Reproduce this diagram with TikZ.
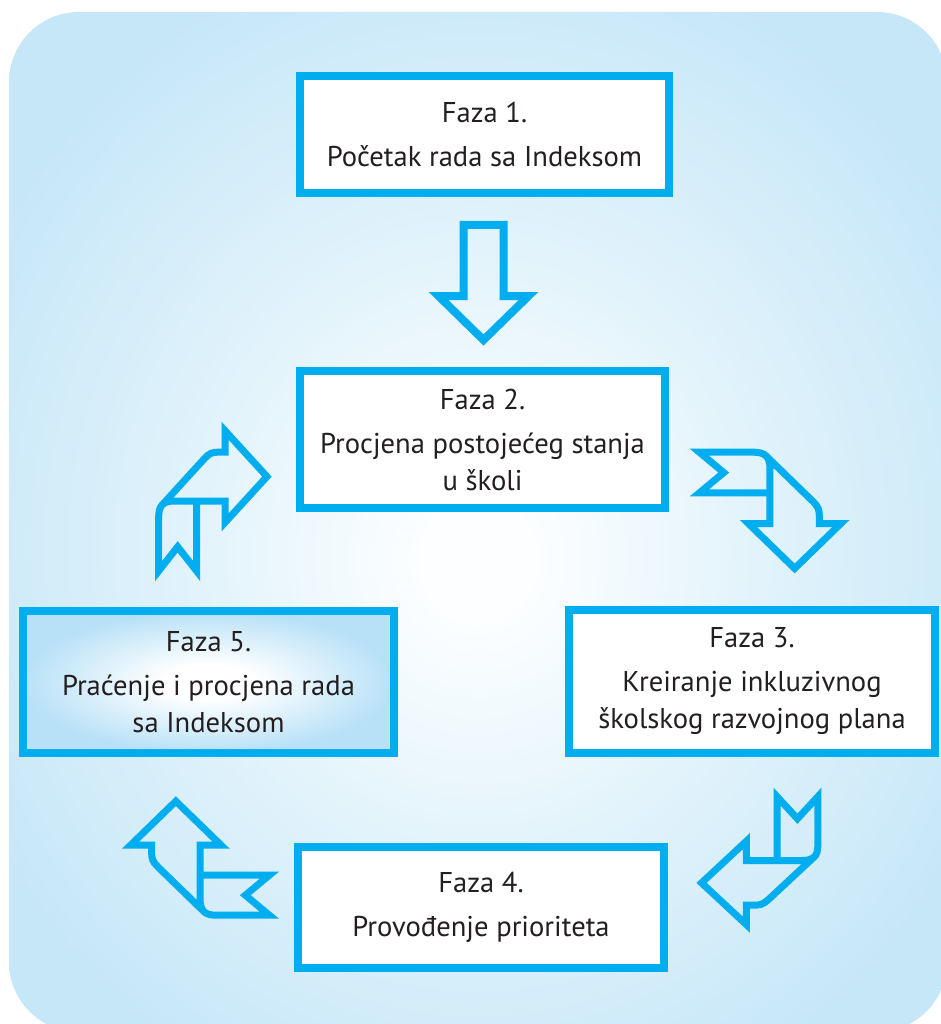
\documentclass[tikz,border=0pt]{standalone}
\usepackage{fontspec}
\setmainfont{PT Sans}
\usetikzlibrary{calc}
\definecolor{cyanline}{RGB}{0,174,239}
\definecolor{bgedge}{RGB}{198,231,248}
\definecolor{bgmid}{RGB}{226,243,251}
\definecolor{bgcenter}{RGB}{252,254,255}
\definecolor{txt}{RGB}{35,31,32}
\definecolor{boxedge}{RGB}{184,225,247}
\pgfdeclareradialshading{bgshade}{\pgfpoint{0bp}{-2bp}}{color(0bp)=(bgcenter); color(3bp)=(bgcenter); color(15bp)=(bgmid); color(30bp)=(bgedge); color(50bp)=(bgedge)}
\pgfdeclareradialshading{boxshade}{\pgfpoint{0bp}{0bp}}{color(0bp)=(white); color(6bp)=(white); color(25bp)=(boxedge); color(50bp)=(boxedge)}
\newcommand\phasefont{\fontsize{28.6}{37}\selectfont}
\newcommand\ribbonpath{%
  \draw[ribbon] (-4.5,-52.8) -- (40,-8.3) .. controls (45,-3.3) and (46,0) .. (46,6)
    -- (46,13.3) -- (66.5,13.3) -- (22.5,57.3) -- (-21.5,13.3) -- (-1,13.3)
    -- (-1,-40) .. controls (-1,-52) and (-5,-56.7) .. (-17,-56.7)
    -- (-68.3,-56.7) -- (-45,-36.7) -- (-68.3,-16.7) -- (-1,-16.7);}
\tikzset{
  phase/.style={draw=cyanline, line width=8pt, fill=white, align=center,
    text=txt, font=\phasefont, inner sep=0pt},
  ribbon/.style={draw=cyanline, line width=7pt, line join=miter, fill=none},
  hollow/.style={draw=cyanline, line width=8pt, line join=miter, fill=none},
}
\begin{document}
\begin{tikzpicture}[x=1pt,y=-1pt]
\useasboundingbox (0,0) rectangle (940,1024);
\shade[shading=bgshade, rounded corners=70pt] (9,12) rectangle (947,1032);

\node[phase, minimum width=369pt, minimum height=117pt] (b1) at (484.5,134.5)
  {Faza 1.\\[7pt]Početak rada sa Indeksom};
\node[phase, minimum width=365pt, minimum height=137pt] (b2) at (482.5,439.5)
  {Faza 2.\\[7pt]Procjena postojećeg stanja\\u školi};
\node[phase, minimum width=366pt, minimum height=143pt] (b3) at (752,681.5)
  {Faza 3.\\[7pt]Kreiranje inkluzivnog\\školskog razvojnog plana};
\node[phase, minimum width=366pt, minimum height=121pt] (b4) at (481,907.5)
  {Faza 4.\\[7pt]Provođenje prioriteta};
\node[phase, shade, shading=boxshade, minimum width=371pt, minimum height=142pt] (b5) at (208.5,682)
  {Faza 5.\\[7pt]Praćenje i procjena rada\\sa Indeksom};

% straight arrow from phase 1 to phase 2
\coordinate (m12) at ($(b1.south)!0.5!(b2.north)$);
\begin{scope}[shift={(m12)}]
  \draw[hollow] (-20,-57) -- (20,-57) -- (20,14) -- (45,14) -- (0,58) -- (-45,14) -- (-20,14) -- cycle;
\end{scope}

% ribbon arrows
\coordinate (a23) at (771,510);
\coordinate (a34) at (760,861.5);
\coordinate (a45) at (199,858.5);
\coordinate (a52) at (212.5,500);
\begin{scope}[shift={(a23)}, xscale=1.05, yscale=1.02]
  \ribbonpath
\end{scope}
\begin{scope}[shift={(a34)}, rotate=-90, xscale=0.95, yscale=1.02]
  \ribbonpath
\end{scope}
\begin{scope}[shift={(a45)}, rotate=180, xscale=1.03, yscale=1.0]
  \ribbonpath
\end{scope}
\begin{scope}[shift={(a52)}, rotate=90, xscale=1.04, yscale=0.95]
  \ribbonpath
\end{scope}
\end{tikzpicture}
\end{document}
